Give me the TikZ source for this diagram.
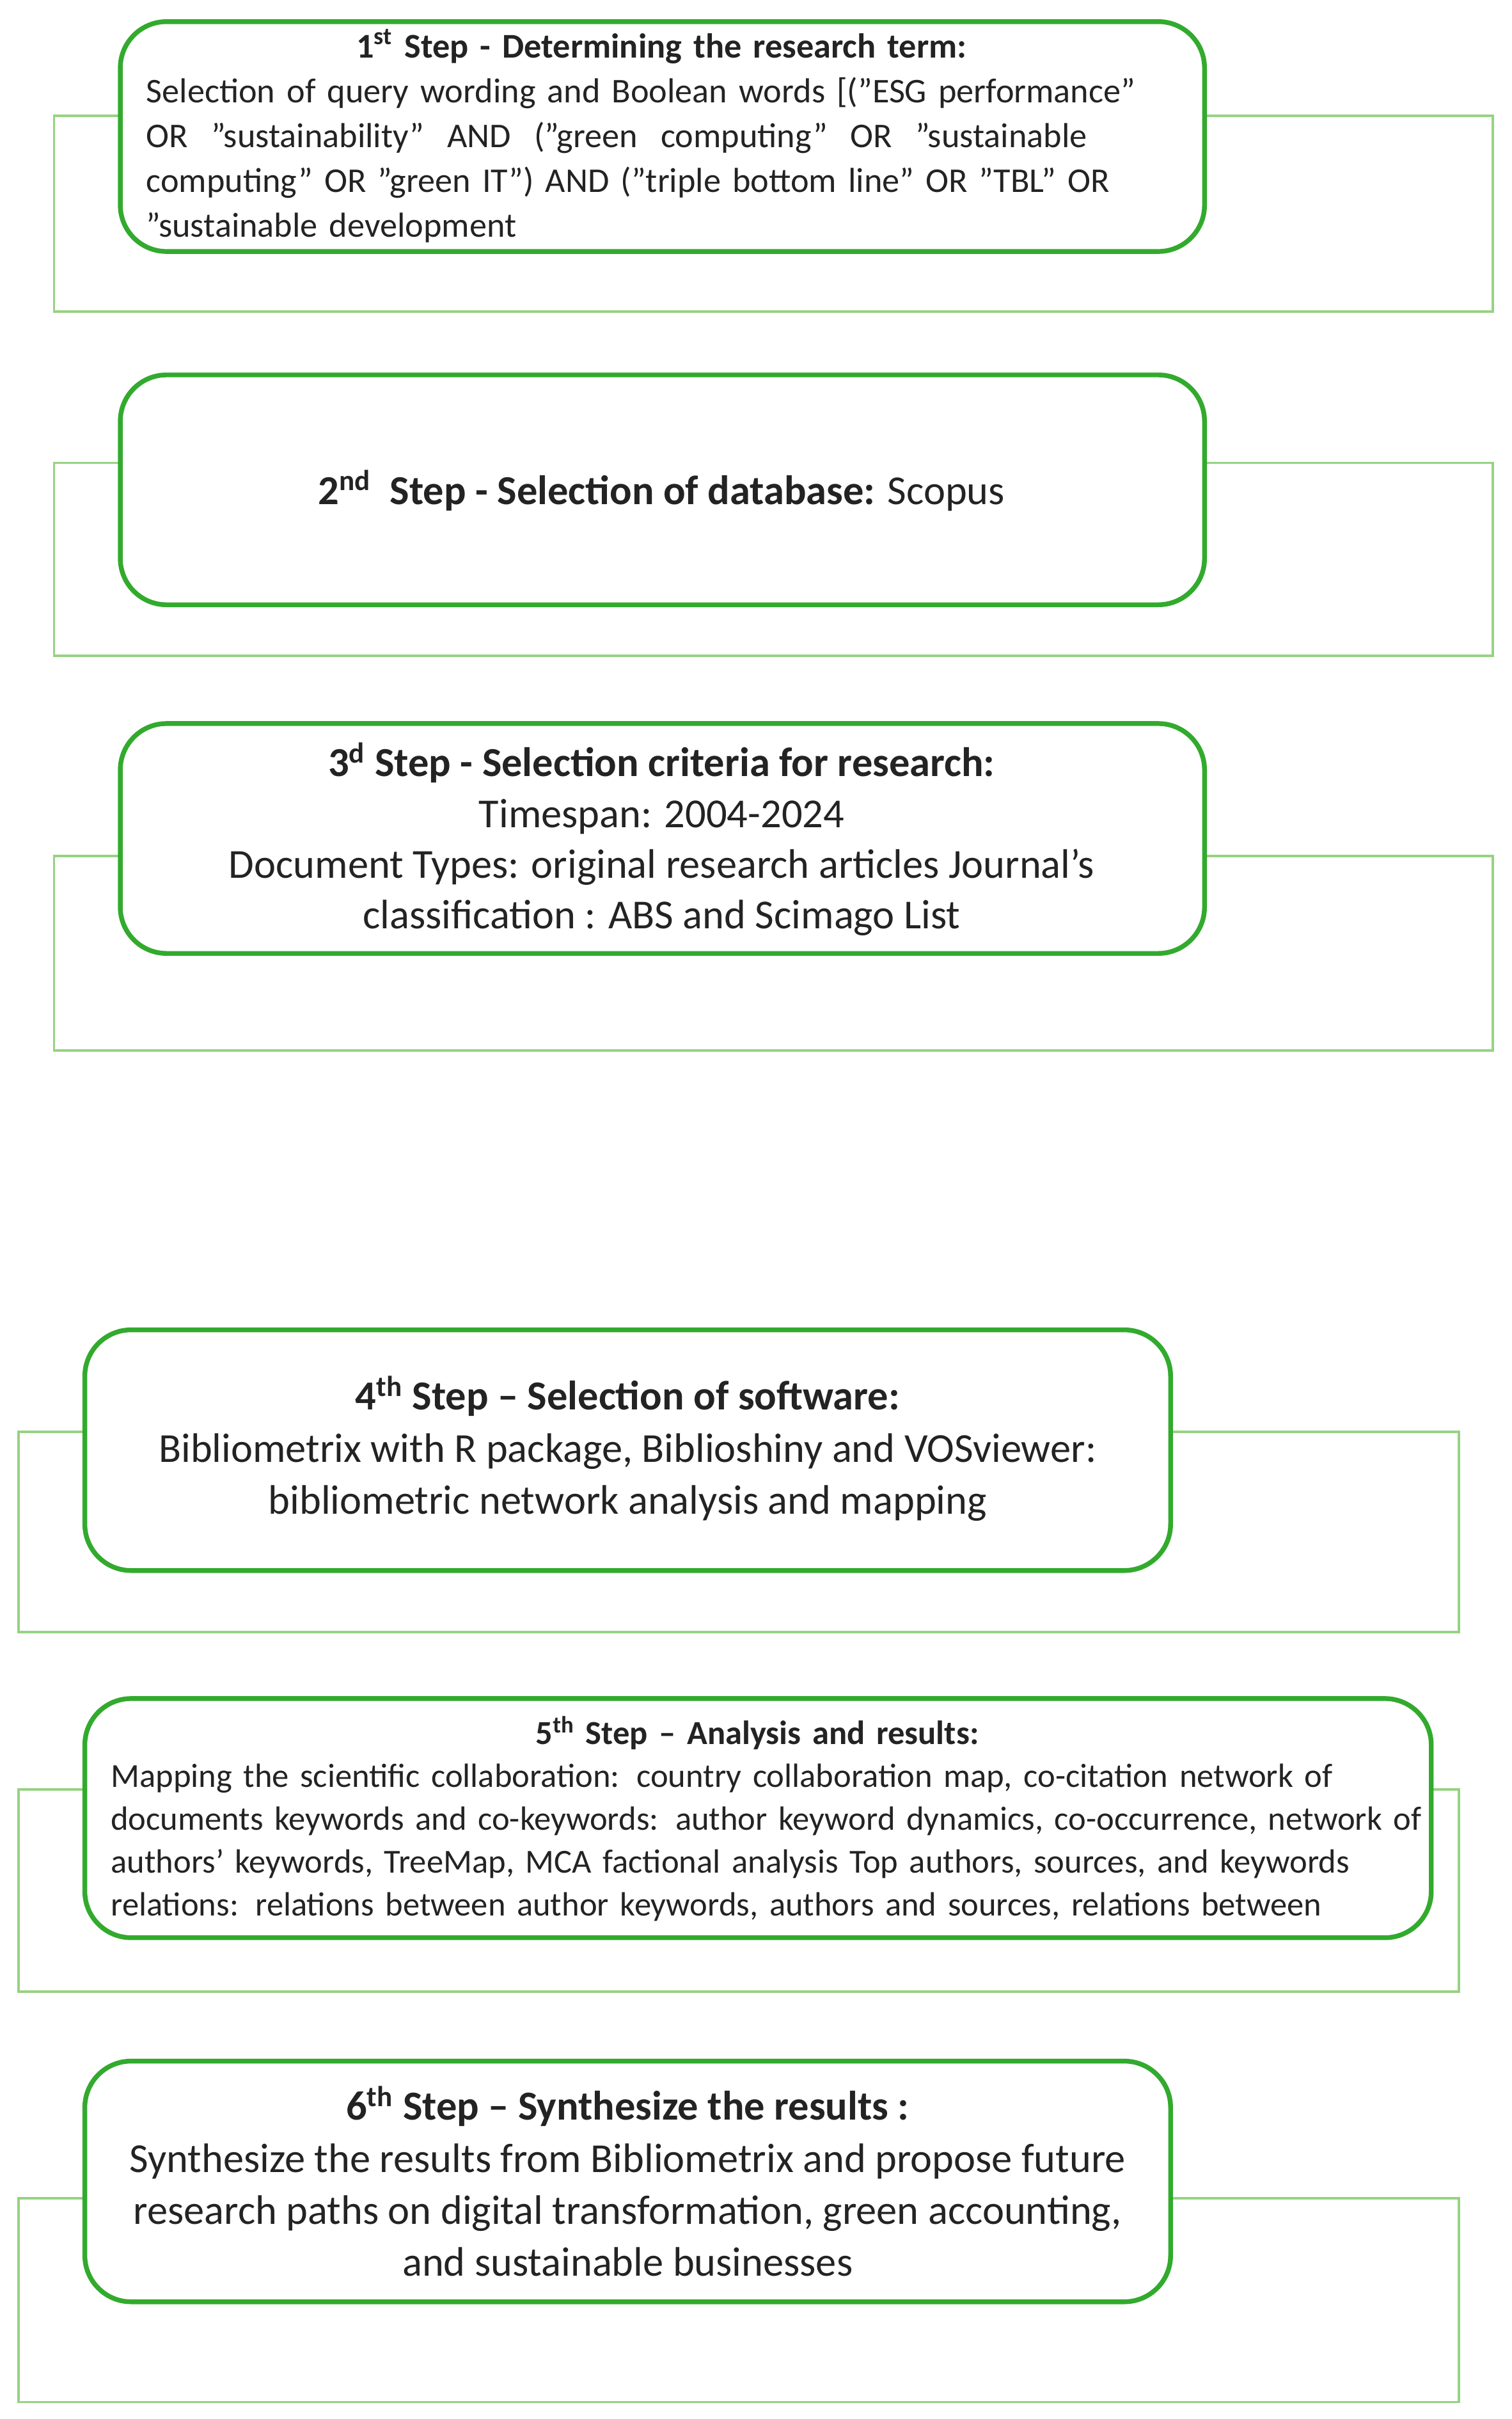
\documentclass[tikz,border=0pt]{standalone}
\usepackage{fontspec}
\setmainfont{Carlito}
\definecolor{boxg}{RGB}{50,170,45}
\definecolor{backg}{RGB}{150,210,130}
\definecolor{txt}{RGB}{35,35,35}
\begin{document}
\begin{tikzpicture}[x=0.025cm,y=-0.025cm,
  backrect/.style={draw=backg,line width=1.1pt},
  stepbox/.style={draw=boxg,line width=2.2pt,fill=white,rounded corners=0.75cm},
  txtnode/.style={text=txt,inner sep=0pt,align=center}]
\useasboundingbox (0,0) rectangle (980,1568);
% backs
\draw[backrect] (35,75) rectangle (968,202);
\draw[backrect] (35,300) rectangle (968,425);
\draw[backrect] (35,555) rectangle (968,681);
\draw[backrect] (12,928) rectangle (946,1058);
\draw[backrect] (12,1160) rectangle (946,1291);
\draw[backrect] (12,1425) rectangle (946,1557);
% boxes
\draw[stepbox] (78,14) rectangle (781,163);
\draw[stepbox] (78,243) rectangle (781,392);
\draw[stepbox] (78,469) rectangle (781,618);
\draw[stepbox] (55,862) rectangle (759,1018);
\draw[stepbox] (55,1101) rectangle (928,1256);
\draw[stepbox] (55,1336) rectangle (759,1492);
% texts
\node[txtnode,text width=16.7cm,font=\fontsize{16}{20.6}\selectfont] (t1) at (429,88) {%
\textbf{1\textsuperscript{st} Step - Determining the research term:}\\
\makebox[\linewidth][s]{Selection of query wording and Boolean words [("ESG performance"}\\
\makebox[\linewidth][s]{OR \ "sustainability" \ AND \ ("green \ computing" \ OR \ "sustainable}\\
\makebox[\linewidth][s]{computing" OR "green IT") AND ("triple bottom line" OR "TBL" OR}\\
\makebox[\linewidth][l]{"sustainable development}};
\node[txtnode,font=\fontsize{19}{23.4}\selectfont] (t2) at (429,318) {\textbf{2\textsuperscript{nd}\ \ Step - Selection of database:} Scopus};
\node[txtnode,font=\fontsize{19}{23.4}\selectfont] (t3) at (429,544) {%
\textbf{3\textsuperscript{d} Step - Selection criteria for research:}\\
Timespan: 2004-2024\\
Document Types: original research articles Journal's\\
classification : ABS and Scimago List};
\node[txtnode,font=\fontsize{19}{24}\selectfont] (t4) at (407,939) {%
\textbf{4\textsuperscript{th} Step – Selection of software:}\\
Bibliometrix with R package, Biblioshiny and VOSviewer:\\
bibliometric network analysis and mapping};
\node[txtnode,text width=20.95cm,font=\fontsize{15.5}{19.8}\selectfont] (t5) at (491,1179) {%
\textbf{5\textsuperscript{th} Step – Analysis and results:}\\
\makebox[\linewidth][s]{Mapping the scientific collaboration: country collaboration map, co-citation network of}\\
\makebox[\linewidth][s]{documents keywords and co-keywords: author keyword dynamics, co-occurrence, network of}\\
\makebox[\linewidth][s]{authors’ keywords, TreeMap, MCA factional analysis Top authors, sources, and keywords}\\
\makebox[\linewidth][l]{relations: relations between author keywords, authors and sources, relations between}};
\node[txtnode,font=\fontsize{19}{24}\selectfont] (t6) at (407,1414) {%
\textbf{6\textsuperscript{th} Step – Synthesize the results :}\\
Synthesize the results from Bibliometrix and propose future\\
research paths on digital transformation, green accounting,\\
and sustainable businesses};
\end{tikzpicture}
\end{document}
